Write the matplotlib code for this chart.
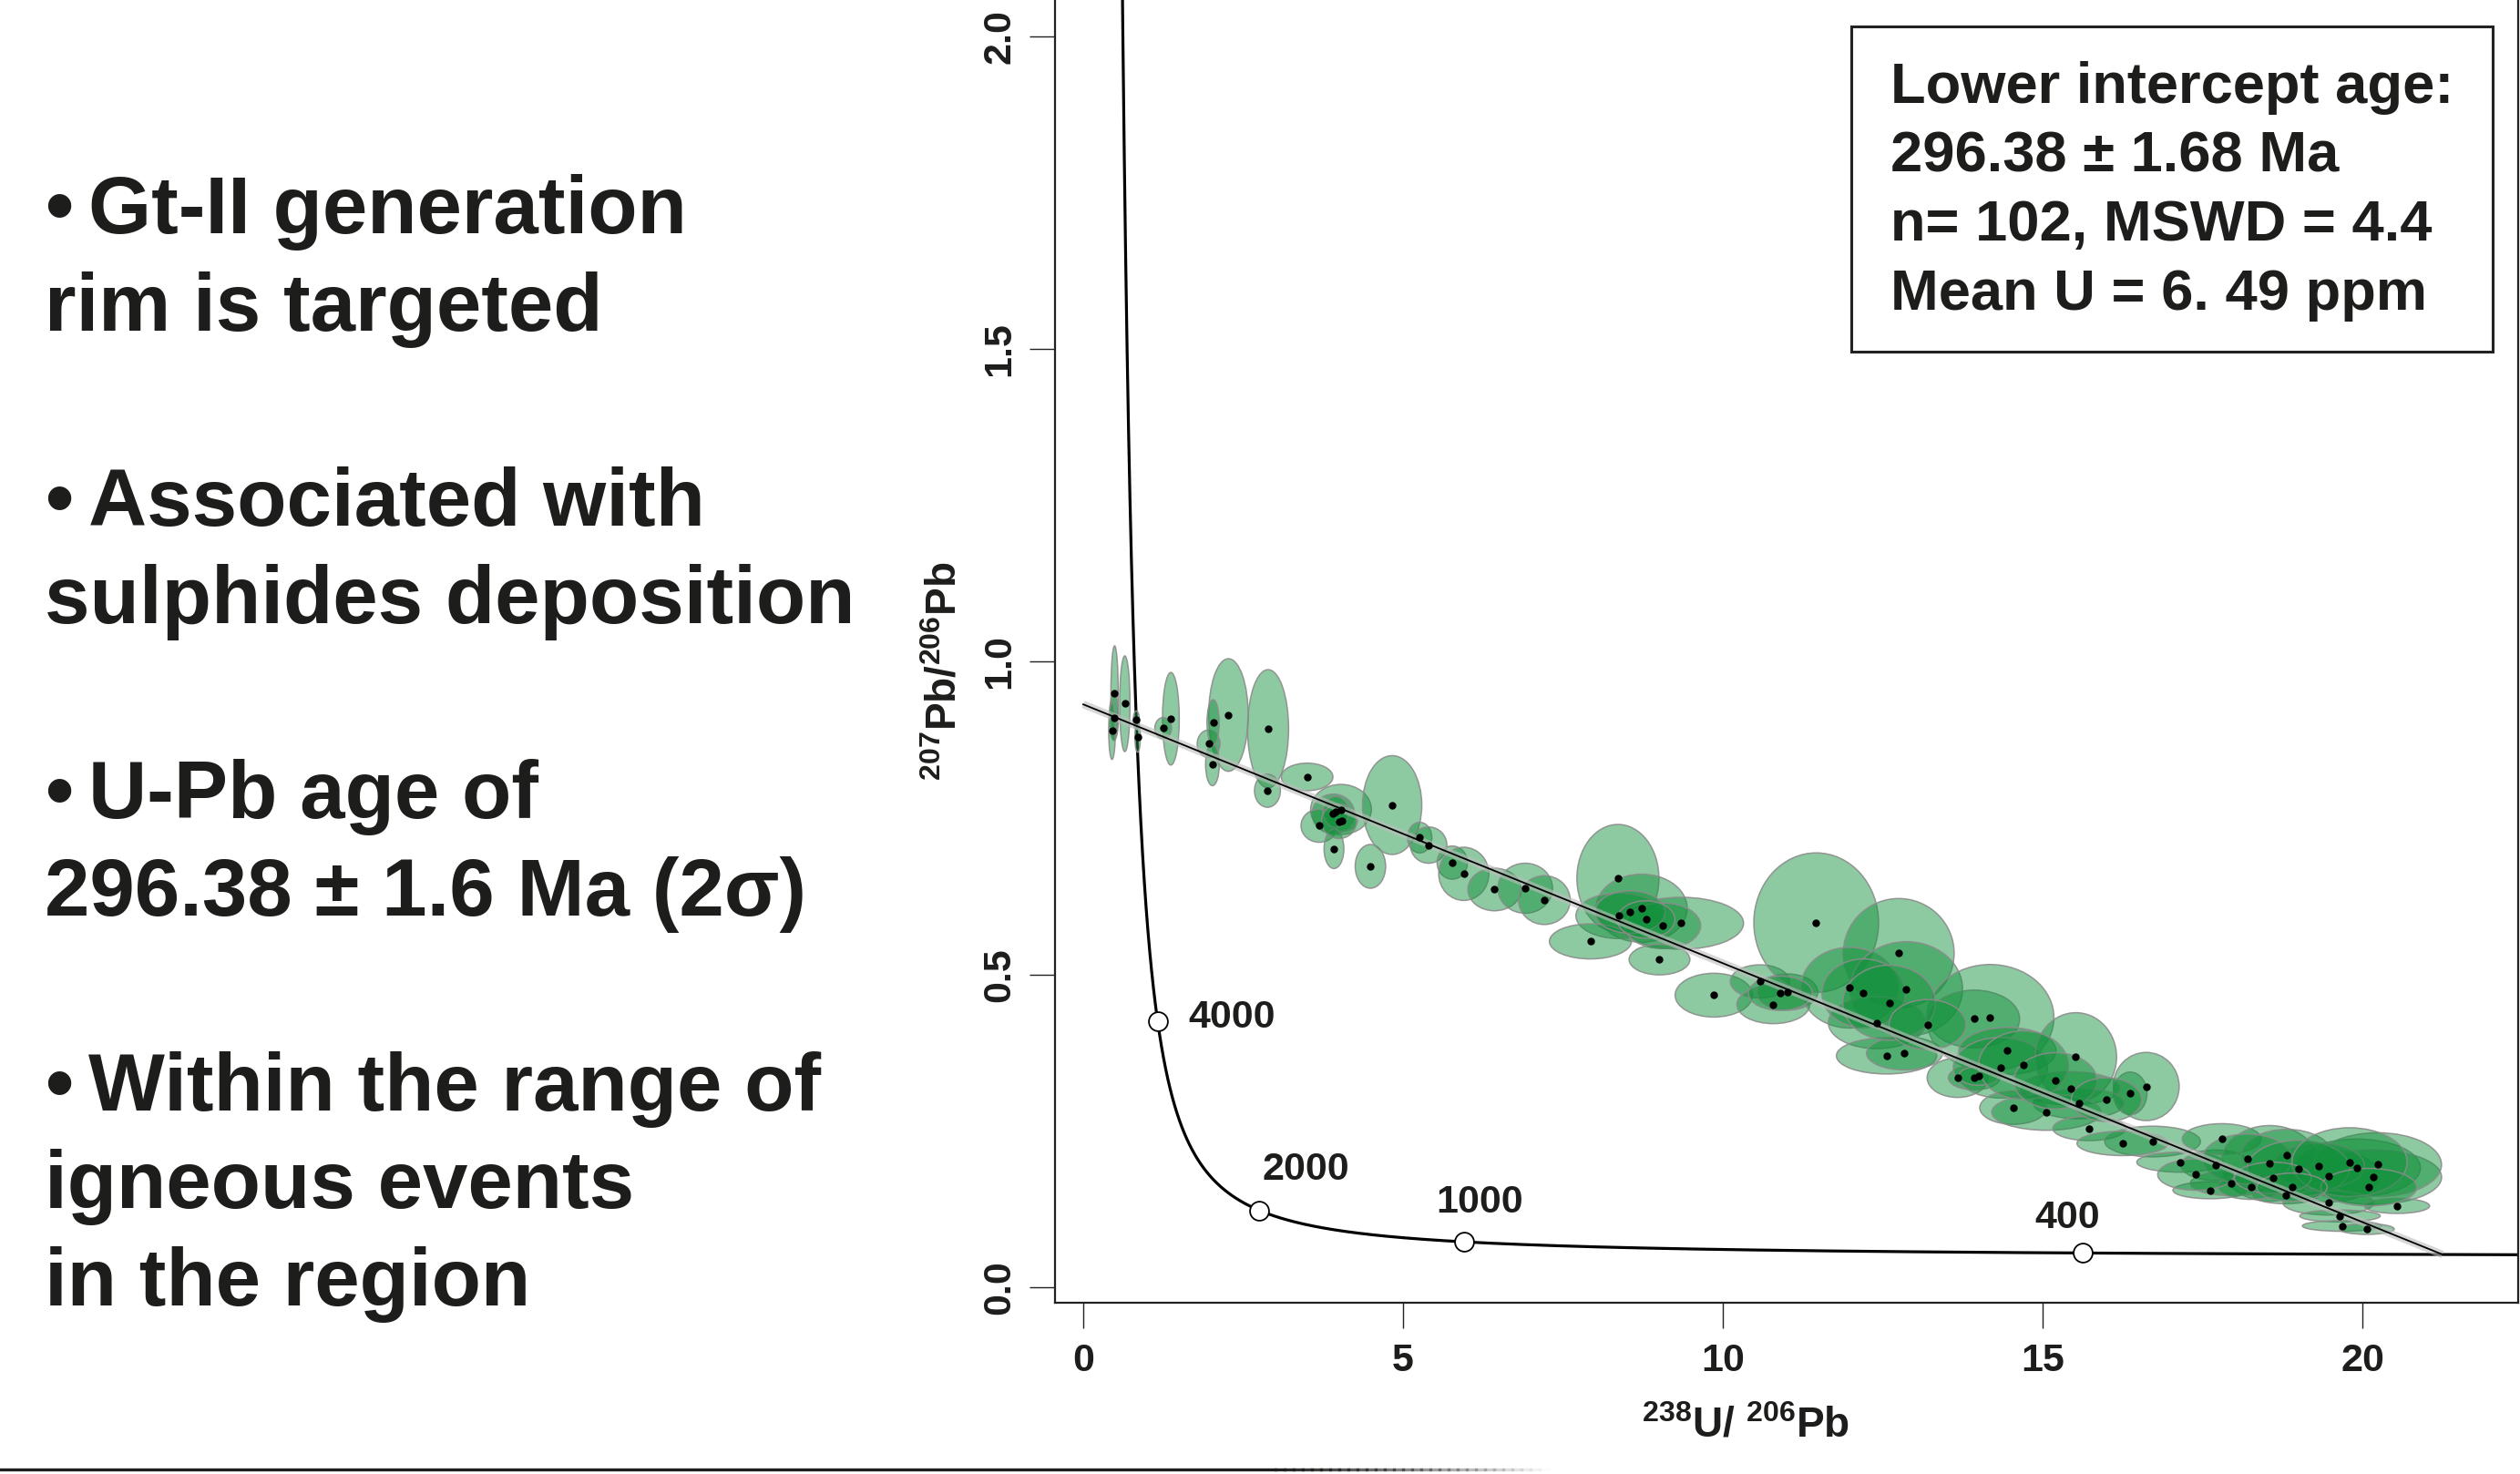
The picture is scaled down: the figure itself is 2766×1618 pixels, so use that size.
import numpy as np
import matplotlib
matplotlib.use("Agg")
import matplotlib.pyplot as plt
from matplotlib.patches import Ellipse, Rectangle
from matplotlib.lines import Line2D

# Tera-Wasserburg diagram for the Gt-II garnet rims

# error ellipses: centre (238U/206Pb, 207Pb/206Pb), full width and height
ell_x = [0.49, 0.48, 0.45, 0.65, 0.83, 0.85, 1.37, 1.25, 2.27, 1.96,
         2.02, 2.03, 2.89, 3.50, 2.88, 4.03, 3.91, 4.05, 3.69, 3.92,
         4.49, 4.83, 5.26, 5.40, 5.77, 5.95, 6.43, 6.91,
         7.21, 8.36, 8.73, 8.38, 9.35, 9.06, 7.93, 9.01, 9.86, 10.58,
         10.79, 11.01, 11.46, 12.75, 11.98, 12.87, 12.41, 12.56, 12.84, 13.93,
         14.18,
         13.67, 13.93, 14.45, 14.34, 15.52, 16.37, 16.62, 15.44, 15.57, 14.54,
         15.06, 15.73, 16.72, 16.25, 17.15, 17.71, 17.80, 18.55, 18.82, 19.48,
         19.91, 20.17, 20.24, 19.32, 18.80, 19.47, 20.54, 19.65, 19.68, 20.07,
         17.62, 17.95, 18.26,
         8.55, 8.80, 12.20, 12.60, 13.20, 14.00, 14.70, 15.20, 16.00, 18.20,
         19.00, 19.80, 18.60, 17.40, 20.10, 3.95, 10.90, 4.00, 18.90]
ell_y = [0.950, 0.911, 0.890, 0.933, 0.907, 0.880, 0.909, 0.894, 0.915, 0.869,
         0.836, 0.903, 0.893, 0.816, 0.794, 0.764, 0.757, 0.746, 0.738, 0.701,
         0.673, 0.771, 0.719, 0.707, 0.679, 0.661, 0.636, 0.638,
         0.619, 0.654, 0.606, 0.594, 0.582, 0.578, 0.553, 0.524, 0.467, 0.489,
         0.452, 0.472, 0.583, 0.534, 0.479, 0.477, 0.423, 0.370, 0.374, 0.429,
         0.431,
         0.335, 0.335, 0.378, 0.351, 0.368, 0.310, 0.321, 0.318, 0.294, 0.287,
         0.280, 0.254, 0.233, 0.230, 0.200, 0.195, 0.237, 0.198, 0.211, 0.178,
         0.191, 0.176, 0.196, 0.194, 0.147, 0.135, 0.130, 0.114, 0.098, 0.093,
         0.155, 0.166, 0.160,
         0.600, 0.588, 0.470, 0.455, 0.420, 0.338, 0.355, 0.330, 0.300, 0.205,
         0.190, 0.200, 0.175, 0.180, 0.160, 0.760, 0.470, 0.745, 0.160]
ell_w = [0.114, 0.142, 0.104, 0.161, 0.095, 0.085, 0.261, 0.261, 0.617, 0.356,
         0.214, 0.190, 0.641, 0.807, 0.404, 0.950, 0.665, 0.475, 0.570, 0.309,
         0.475, 0.926, 0.380, 0.570, 0.475, 0.783, 0.831, 0.855,
         0.807, 1.282, 1.425, 1.353, 1.947, 1.187, 1.282, 0.950, 1.211, 0.926,
         1.140, 0.950, 1.950, 1.733, 1.519, 1.757, 1.519, 1.567, 1.187, 1.420,
         1.994,
         0.950, 0.807, 1.520, 1.472, 1.273, 0.522, 1.030, 1.567, 1.424, 1.045,
         1.709, 1.140, 1.496, 1.424, 1.353, 1.092, 1.235, 1.519, 1.424, 1.567,
         1.994, 2.137, 1.994, 1.424, 1.021, 1.424, 1.021, 1.258, 1.235, 0.855,
         1.163, 1.282, 1.045,
         1.100, 0.900, 1.300, 1.450, 1.200, 0.620, 1.400, 1.300, 1.100, 1.400,
         1.600, 1.800, 1.200, 1.200, 1.500, 0.400, 1.000, 0.550, 1.100]
ell_h = [0.151, 0.073, 0.092, 0.153, 0.029, 0.049, 0.148, 0.034, 0.180, 0.044,
         0.068, 0.073, 0.189, 0.044, 0.053, 0.080, 0.063, 0.034, 0.053, 0.063,
         0.070, 0.158, 0.049, 0.058, 0.053, 0.085, 0.068, 0.080,
         0.078, 0.172, 0.109, 0.073, 0.083, 0.073, 0.056, 0.049, 0.070, 0.053,
         0.061, 0.058, 0.223, 0.175, 0.129, 0.151, 0.083, 0.058, 0.053, 0.092,
         0.170,
         0.063, 0.039, 0.075, 0.097, 0.142, 0.068, 0.109, 0.053, 0.049, 0.053,
         0.058, 0.039, 0.049, 0.039, 0.032, 0.049, 0.049, 0.121, 0.083, 0.083,
         0.092, 0.087, 0.102, 0.073, 0.027, 0.039, 0.024, 0.019, 0.017, 0.017,
         0.027, 0.039, 0.039,
         0.068, 0.060, 0.110, 0.120, 0.080, 0.030, 0.110, 0.090, 0.070, 0.080,
         0.090, 0.110, 0.050, 0.050, 0.060, 0.050, 0.055, 0.055, 0.045]

# decay constants (1/yr) and 238U/235U
LAMBDA_238 = 1.55125e-10
LAMBDA_235 = 9.8485e-10
U_RATIO = 137.818

marker_ages = [4000, 2000, 1000, 400]      # Ma
marker_labels = ['4000', '2000', '1000', '400']
lower_intercept_age = 296.38              # Ma
common_pb_y0 = 0.932                      # 207Pb/206Pb at 238U/206Pb = 0

x_ticks = [0, 5, 10, 15, 20]
x_tick_labels = ['0', '5', '10', '15', '20']
y_ticks = [0.0, 0.5, 1.0, 1.5, 2.0]
y_tick_labels = ['0.0', '0.5', '1.0', '1.5', '2.0']

left_lines = ['\u2022Gt-II generation', 'rim is targeted', '',
              '\u2022Associated with', 'sulphides deposition', '',
              '\u2022U-Pb age of', '296.38 \u00b1 1.6 Ma (2\u03c3)', '',
              '\u2022Within the range of', 'igneous events', 'in the region']
box_lines = ['Lower intercept age:', '296.38 \u00b1 1.68 Ma',
             'n= 102, MSWD = 4.4', 'Mean U = 6. 49 ppm']


def tw_point(age_ma):
    # concordia position in Tera-Wasserburg space for an age in Ma
    t = np.asarray(age_ma, dtype=float) * 1e6
    e8 = np.exp(LAMBDA_238 * t) - 1.0
    e5 = np.exp(LAMBDA_235 * t) - 1.0
    return 1.0 / e8, e5 / e8 / U_RATIO


plt.rcParams['font.family'] = ['Liberation Sans', 'DejaVu Sans']
plt.rcParams['font.weight'] = 'bold'
plt.rcParams['mathtext.fontset'] = 'custom'
plt.rcParams['mathtext.bf'] = 'Liberation Sans:bold'
plt.rcParams['mathtext.rm'] = 'Liberation Sans:bold'
plt.rcParams['mathtext.default'] = 'bf'

W, H = 2766, 1618
TXT = '#1d1d1b'
fig = plt.figure(figsize=(W / 100, H / 100), dpi=100)
fig.patch.set_facecolor('white')

ax = fig.add_axes([1158 / W, 1 - 1430 / H, (2764 - 1158) / W, 1430 / H])
ax.set_xlim(-0.4416, 22.436)
ax.set_ylim(-0.0248, 2.0583)

# concordia curve
ages = np.linspace(270, 7000, 4000)
cx, cy = tw_point(ages)
ax.plot(cx, cy, color='black', lw=2.3, zorder=2)

# error ellipses
for x, y, w, h in zip(ell_x, ell_y, ell_w, ell_h):
    ax.add_patch(Ellipse((x, y), w, h, facecolor=(0.07, 0.57, 0.23, 0.48),
                         edgecolor=(0.55, 0.55, 0.55, 0.9), lw=1.1, zorder=3))

# discordia to the lower intercept
lx, ly = tw_point(lower_intercept_age)
ax.plot([0, lx], [common_pb_y0, ly], color='#bdbdbd', lw=6, alpha=0.6,
        solid_capstyle='butt', zorder=4)
ax.plot([0, lx], [common_pb_y0, ly], color='black', lw=1.3, zorder=5)

ax.plot(ell_x, ell_y, 'o', color='black', ms=5, zorder=6)

# age markers on the concordia
mx, my = tw_point(marker_ages)
ax.plot(mx, my, 'o', ms=15, mfc='white', mec='black', mew=1.3, zorder=7)
label_offsets = [(59, 3), (37, 32), (12, 31), (-12, 28)]
for x, y, lab, off in zip(mx, my, marker_labels, label_offsets):
    ax.annotate(lab, (x, y), xytext=off, textcoords='offset points',
                ha='center', va='center', fontsize=31, fontweight='bold',
                color=TXT, zorder=8)

ax.spines['top'].set_visible(False)
for side in ['left', 'bottom', 'right']:
    ax.spines[side].set_linewidth(1.6)
    ax.spines[side].set_color('#222222')

ax.set_xticks(x_ticks)
ax.set_xticklabels(x_tick_labels, fontsize=31, fontweight='bold', color=TXT)
ax.set_yticks(y_ticks)
ax.set_yticklabels(y_tick_labels, fontsize=31, fontweight='bold', color=TXT,
                   rotation=90, va='center')
ax.tick_params(axis='both', direction='out', length=20, width=1.0,
               color='#222222')
ax.tick_params(axis='x', pad=12)
ax.tick_params(axis='y', pad=9)

fig.text(1916 / W, 1 - 1565 / H, r'$^{238}$U/ $^{206}$Pb', ha='center',
         va='center', fontsize=33, fontweight='bold', color=TXT)
fig.text(1037 / W, 1 - 737 / H, r'$^{207}$Pb/$^{206}$Pb', ha='center',
         va='center', rotation=90, fontsize=33, fontweight='bold', color=TXT)

# result box
fig.add_artist(Rectangle((2032 / W, 1 - 386 / H), 704 / W, 357 / H,
                         transform=fig.transFigure, fill=False,
                         edgecolor='#222222', lw=2.2))
for i, line in enumerate(box_lines):
    fig.text(2075 / W, 1 - (113 + 75.7 * i) / H, line, ha='left',
             va='baseline', fontsize=45.5, fontweight='bold', color=TXT)

# bullet text on the left
for i, line in enumerate(left_lines):
    if not line:
        continue
    if line.startswith('\u2022'):
        fig.text(49 / W, 1 - (256 + 107 * i) / H, '\u2022', ha='left',
                 va='baseline', fontsize=64, fontweight='bold', color=TXT)
        fig.text(97 / W, 1 - (256 + 107 * i) / H, line[1:], ha='left',
                 va='baseline', fontsize=64, fontweight='bold', color=TXT)
    else:
        fig.text(49 / W, 1 - (256 + 107 * i) / H, line, ha='left',
                 va='baseline', fontsize=64, fontweight='bold', color=TXT)

# fading rule along the bottom
fig.add_artist(Line2D([0, 1400 / W], [1 - 1613 / H] * 2, color='#1d1d1b',
                      lw=2.4, transform=fig.transFigure))
steps = 30
for k in range(steps):
    x0 = (1400 + 300 * k / steps) / W
    x1 = (1400 + 300 * (k + 1) / steps) / W
    fig.add_artist(Line2D([x0, x1], [1 - 1613 / H] * 2, color='#1d1d1b',
                          lw=2.4, alpha=1 - (k + 0.5) / steps,
                          transform=fig.transFigure))

fig.savefig('out.png', dpi=100, facecolor='white')
